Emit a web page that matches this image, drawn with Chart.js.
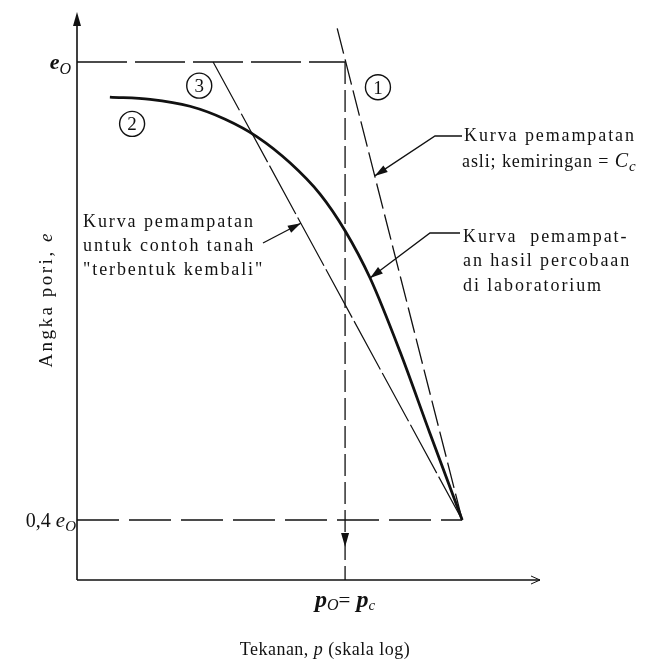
<!DOCTYPE html>
<html>
<head>
<meta charset="utf-8">
<script src="https://cdn.jsdelivr.net/npm/chart.js@4/dist/chart.umd.min.js"></script>
<style>
  html, body { margin: 0; padding: 0; background: #fff; }
</style>
</head>
<body>
<canvas id="consolidationChart" width="652" height="659"></canvas>
<script>
/* Angka pori (e) terhadap log tekanan (p) - kurva pemampatan */
var E0 = 1.0;          // e_O
var E_LOW = 0.4;       // 0,4 e_O
var P0 = 5.79;         // p_O = p_c (skala log)
var P_END = 8.32;      // titik temu semua kurva pada 0,4 e_O
var LOGP_MIN = 0, LOGP_MAX = 10;
var E_MIN = 0.3214, E_MAX = 1.0655;

// (2) kurva hasil percobaan di laboratorium
var labLogP = [0.71, 1.58, 2.44, 3.20, 3.89, 4.60, 5.25, 5.79, 6.33, 6.98, 7.62, 8.32];
var labE    = [0.954, 0.951, 0.942, 0.925, 0.902, 0.868, 0.827, 0.779, 0.717, 0.620, 0.514, 0.400];

// (1) kurva pemampatan asli, kemiringan = Cc
var virginLogP = [5.62, P_END];
var virginE    = [1.044, E_LOW];

// (3) contoh tanah "terbentuk kembali"
var remoldLogP = [2.94, P_END];
var remoldE    = [E0, E_LOW];

var SERIF = '"Liberation Serif", "DejaVu Serif", serif';

function toPoints(xs, ys) {
    var pts = [];
    for (var i = 0; i < xs.length; i++) {
        pts.push({ x: xs[i], y: ys[i] });
    }
    return pts;
}

function lineSet(points, width, dash) {
    return {
        data: points,
        showLine: true,
        borderColor: '#111',
        borderWidth: width,
        borderDash: dash || [],
        pointRadius: 0,
        fill: false
    };
}

function spacing(ctx, px) {
    if ('letterSpacing' in ctx) ctx.letterSpacing = px + 'px';
}

/* draw a run of text pieces: [text, font, dy] */
function drawRich(ctx, parts, x, y, align) {
    var w = 0;
    parts.forEach(function (p) { ctx.font = p[1]; w += ctx.measureText(p[0]).width; });
    var cx = align === 'center' ? x - w / 2 : (align === 'right' ? x - w : x);
    parts.forEach(function (p) {
        ctx.font = p[1];
        ctx.fillText(p[0], cx, y + (p[2] || 0));
        cx += ctx.measureText(p[0]).width;
    });
}

function arrowHead(ctx, fromX, fromY, tipX, tipY, len, half) {
    var a = Math.atan2(tipY - fromY, tipX - fromX);
    ctx.beginPath();
    ctx.moveTo(tipX, tipY);
    ctx.lineTo(tipX - len * Math.cos(a) + half * Math.sin(a), tipY - len * Math.sin(a) - half * Math.cos(a));
    ctx.lineTo(tipX - len * Math.cos(a) - half * Math.sin(a), tipY - len * Math.sin(a) + half * Math.cos(a));
    ctx.closePath();
    ctx.fill();
}

function leader(ctx, pts, tip) {
    ctx.beginPath();
    ctx.moveTo(pts[0][0], pts[0][1]);
    for (var i = 1; i < pts.length; i++) ctx.lineTo(pts[i][0], pts[i][1]);
    ctx.lineTo(tip.x, tip.y);
    ctx.stroke();
    var last = pts[pts.length - 1];
    arrowHead(ctx, last[0], last[1], tip.x, tip.y, 13, 4);
}

function pointOnLine(chart, index, t) {
    var d = chart.getDatasetMeta(index).data;
    return { x: d[0].x + (d[1].x - d[0].x) * t, y: d[0].y + (d[1].y - d[0].y) * t };
}

function circled(ctx, text, x, y) {
    ctx.beginPath();
    ctx.arc(x, y, 12.5, 0, Math.PI * 2);
    ctx.lineWidth = 1.4;
    ctx.stroke();
    ctx.font = '19px ' + SERIF;
    ctx.textAlign = 'center';
    ctx.fillText(text, x, y + 6.5);
    ctx.textAlign = 'left';
}

var sketchPlugin = {
    id: 'sketch',
    afterDatasetsDraw: function (chart) {
        var ctx = chart.ctx;
        var xs = chart.scales.x, ys = chart.scales.y;
        var a = chart.chartArea;
        ctx.save();
        ctx.fillStyle = '#111';
        ctx.strokeStyle = '#111';
        ctx.textBaseline = 'alphabetic';
        ctx.textAlign = 'left';

        // axes with arrows
        ctx.lineWidth = 1.6;
        ctx.beginPath();
        ctx.moveTo(a.left, a.bottom);
        ctx.lineTo(a.left, a.top + 6);
        ctx.moveTo(a.left, a.bottom);
        ctx.lineTo(a.right, a.bottom);
        ctx.stroke();
        arrowHead(ctx, a.left, a.top + 30, a.left, a.top, 14, 4);
        ctx.lineWidth = 1;
        ctx.beginPath();
        ctx.moveTo(a.right - 9, a.bottom - 4);
        ctx.lineTo(a.right, a.bottom);
        ctx.lineTo(a.right - 9, a.bottom + 4);
        ctx.stroke();

        // arrow on the p_O dashed line
        var px0 = xs.getPixelForValue(P0);
        var yLow = ys.getPixelForValue(E_LOW);
        arrowHead(ctx, px0, yLow, px0, yLow + 27, 14, 4);

        // y tick labels
        var yE0 = ys.getPixelForValue(E0);
        drawRich(ctx, [
            ['e', 'bold italic 22px ' + SERIF],
            ['O', 'italic 16px ' + SERIF, 5]
        ], a.left - 6, yE0 + 7, 'right');
        drawRich(ctx, [
            ['0,4 ', '20px ' + SERIF],
            ['e', 'italic 21px ' + SERIF],
            ['O', 'italic 15px ' + SERIF, 4]
        ], a.left - 1, yLow + 7, 'right');

        // x tick label
        drawRich(ctx, [
            ['p', 'bold italic 24px ' + SERIF],
            ['O', 'italic 16px ' + SERIF, 3],
            ['=', '21px ' + SERIF],
            [' p', 'bold italic 24px ' + SERIF],
            ['c', 'italic 15px ' + SERIF, 3]
        ], px0, a.bottom + 27, 'center');

        // axis titles
        spacing(ctx, 0.5);
        drawRich(ctx, [
            ['Tekanan, ', '18px ' + SERIF],
            ['p', 'italic 18px ' + SERIF],
            [' (skala log)', '18px ' + SERIF]
        ], a.left + 248, a.bottom + 75, 'center');

        ctx.save();
        spacing(ctx, 2.5);
        ctx.translate(a.left - 25, ys.getPixelForValue(0.689));
        ctx.rotate(-Math.PI / 2);
        drawRich(ctx, [
            ['Angka pori, ', '19px ' + SERIF],
            ['e', 'italic 19px ' + SERIF]
        ], 0, 0, 'center');
        ctx.restore();
        spacing(ctx, 0);

        // curve numbers
        circled(ctx, '1', xs.getPixelForValue(6.50), ys.getPixelForValue(0.967));
        circled(ctx, '2', xs.getPixelForValue(1.19), ys.getPixelForValue(0.919));
        circled(ctx, '3', xs.getPixelForValue(2.64), ys.getPixelForValue(0.969));

        // annotations
        ctx.lineWidth = 1.3;
        var body = '18px ' + SERIF;
        spacing(ctx, 1.9);

        leader(ctx, [[462, 136], [435, 136]], pointOnLine(chart, 3, 0.30));
        drawRich(ctx, [['Kurva pemampatan', body]], 464, 141, 'left');
        spacing(ctx, 0.9);
        drawRich(ctx, [
            ['asli; kemiringan = ', body],
            ['C', 'italic 20px ' + SERIF],
            ['c', 'italic 15px ' + SERIF, 4]
        ], 462, 167, 'left');
        spacing(ctx, 1.9);

        leader(ctx, [[263, 243]], pointOnLine(chart, 4, 0.352));
        drawRich(ctx, [['Kurva pemampatan', body]], 83, 227, 'left');
        drawRich(ctx, [['untuk contoh tanah', body]], 83, 251, 'left');
        drawRich(ctx, [['"terbentuk kembali"', body]], 83, 275, 'left');

        var labPt = chart.getDatasetMeta(5).data[8];
        leader(ctx, [[460, 233], [430, 233]], { x: labPt.x, y: labPt.y });
        drawRich(ctx, [['Kurva  pemampat-', body]], 463, 242, 'left');
        drawRich(ctx, [['an hasil percobaan', body]], 463, 266, 'left');
        drawRich(ctx, [['di laboratorium', body]], 463, 291, 'left');

        ctx.restore();
    }
};

var chart = new Chart(document.getElementById('consolidationChart').getContext('2d'), {
    type: 'scatter',
    data: {
        datasets: [
            lineSet([{ x: LOGP_MIN, y: E0 }, { x: P0, y: E0 }], 1.3, [50, 8]),
            lineSet([{ x: LOGP_MIN, y: E_LOW }, { x: P_END, y: E_LOW }], 1.3, [42, 10]),
            lineSet([{ x: P0, y: E0 }, { x: P0, y: E_MIN }], 1.3, [22, 6]),
            lineSet(toPoints(virginLogP, virginE), 1.3, [26, 6]),
            lineSet(toPoints(remoldLogP, remoldE), 1.2, [55, 4]),
            Object.assign(lineSet(toPoints(labLogP, labE), 2.8), { cubicInterpolationMode: 'monotone' })
        ]
    },
    options: {
        responsive: false,
        animation: false,
        devicePixelRatio: 1,
        layout: { padding: { left: 77, right: 112, top: 12, bottom: 79 } },
        plugins: { legend: { display: false }, tooltip: { enabled: false } },
        scales: {
            x: { type: 'linear', min: LOGP_MIN, max: LOGP_MAX, display: false },
            y: { type: 'linear', min: E_MIN, max: E_MAX, display: false }
        }
    },
    plugins: [sketchPlugin]
});
</script>
</body>
</html>
